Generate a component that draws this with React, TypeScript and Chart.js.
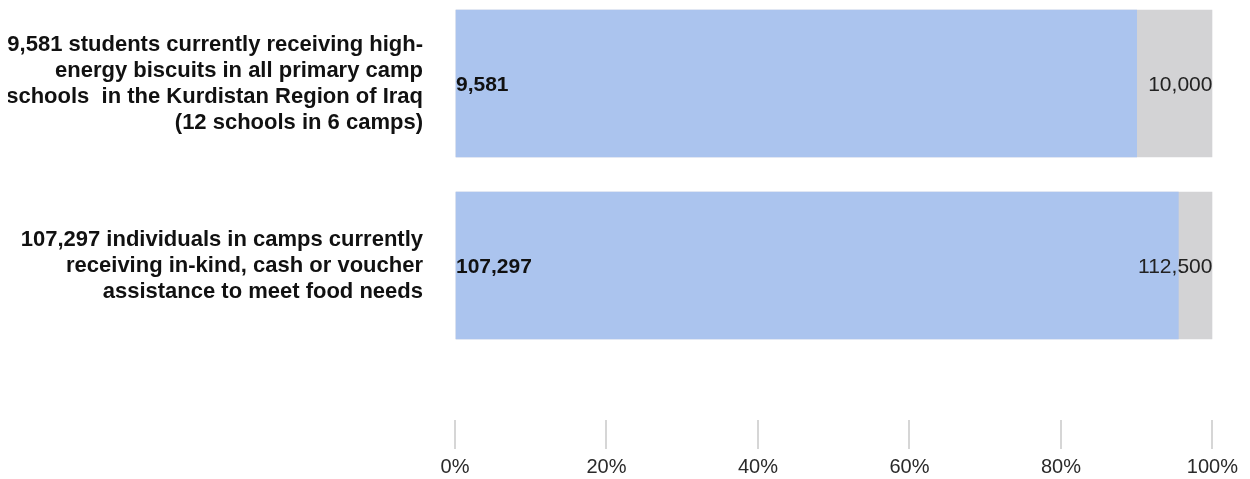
import React, { useEffect, useRef } from "react";
import { Chart, registerables } from "chart.js";

Chart.register(...registerables);

const categoryLines: string[][] = [
  [
    "9,581 students currently receiving high-",
    "energy biscuits in all primary camp",
    "schools  in the Kurdistan Region of Iraq",
    "(12 schools in 6 camps)",
  ],
  [
    "107,297 individuals in camps currently",
    "receiving in-kind, cash or voucher",
    "assistance to meet food needs",
  ],
];
const achievedLabels = ["9,581", "107,297"];
const targetLabels = ["10,000", "112,500"];
const achievedPct = [90, 95.5];
const targetPct = [100, 100];
const xTicks = [0, 20, 40, 60, 80, 100];

const FONT = "'Liberation Sans', Arial, Helvetica, sans-serif";

const valueLabelPlugin = {
  id: "valueLabels",
  afterDatasetsDraw(chart: any) {
    const ctx = chart.ctx;
    const blue = chart.getDatasetMeta(0);
    const gray = chart.getDatasetMeta(1);
    ctx.save();
    ctx.textBaseline = "middle";
    blue.data.forEach((bar: any, i: number) => {
      const g = gray.data[i];
      ctx.font = `bold 21px ${FONT}`;
      ctx.fillStyle = "#111111";
      ctx.textAlign = "left";
      ctx.fillText(achievedLabels[i], bar.base, bar.y + 2);
      ctx.font = `21px ${FONT}`;
      ctx.fillStyle = "#222222";
      ctx.textAlign = "right";
      ctx.fillText(targetLabels[i], g.x, g.y + 2);
    });
    ctx.restore();
  },
};

export default function App() {
  const ref = useRef<HTMLCanvasElement | null>(null);
  useEffect(() => {
    if (!ref.current) return;
    const chart = new Chart(ref.current, {
      type: "bar",
      data: {
        datasets: [
          {
            label: "Achieved",
            data: achievedPct.map((v, i) => ({ x: v, y: i })),
            backgroundColor: "#abc4ee",
            barThickness: 147,
            grouped: false,
          } as any,
          {
            label: "Target",
            data: targetPct.map((v, i) => ({ x: v, y: i })),
            backgroundColor: "#d3d3d5",
            barThickness: 147,
            grouped: false,
          } as any,
        ],
      },
      plugins: [valueLabelPlugin],
      options: {
        indexAxis: "y",
        animation: false,
        responsive: true,
        maintainAspectRatio: false,
        layout: { padding: { left: 0, right: 26, top: 0, bottom: 0 } },
        plugins: { legend: { display: false }, tooltip: { enabled: false } },
        scales: {
          x: {
            type: "linear",
            position: "bottom",
            min: 0,
            max: 100,
            afterBuildTicks: (s: any) => {
              s.ticks = xTicks.map((v) => ({ value: v }));
            },
            ticks: {
              callback: (v: any) => `${v}%`,
              font: { family: FONT, size: 20 },
              color: "#2a2a2a",
              padding: 6,
              maxRotation: 0,
            },
            grid: {
              drawOnChartArea: false,
              drawTicks: true,
              tickLength: 29,
              color: "#d6d6d6",
              lineWidth: 2,
            },
            border: { display: false },
          },
          y: {
            type: "linear",
            reverse: true,
            offset: false,
            min: -0.4148,
            max: 1.8489,
            afterBuildTicks: (s: any) => {
              s.ticks = categoryLines.map((_, i) => ({ value: i }));
            },
            afterFit: (s: any) => {
              s.width = 447;
              s.paddingTop = 0;
              s.paddingBottom = 0;
            },
            ticks: {
              callback: (v: any) => categoryLines[v] ?? "",
              font: { family: FONT, size: 22, weight: "bold", lineHeight: "26px" },
              color: "#111111",
              padding: 32,
            },
            grid: { display: false, drawTicks: false, offset: false },
            border: { display: false },
          },
        },
      } as any,
    });
    return () => chart.destroy();
  }, []);
  return (
    <div style={{ position: "relative", width: "1236px", height: "477px" }}>
      <canvas ref={ref} />
    </div>
  );
}
